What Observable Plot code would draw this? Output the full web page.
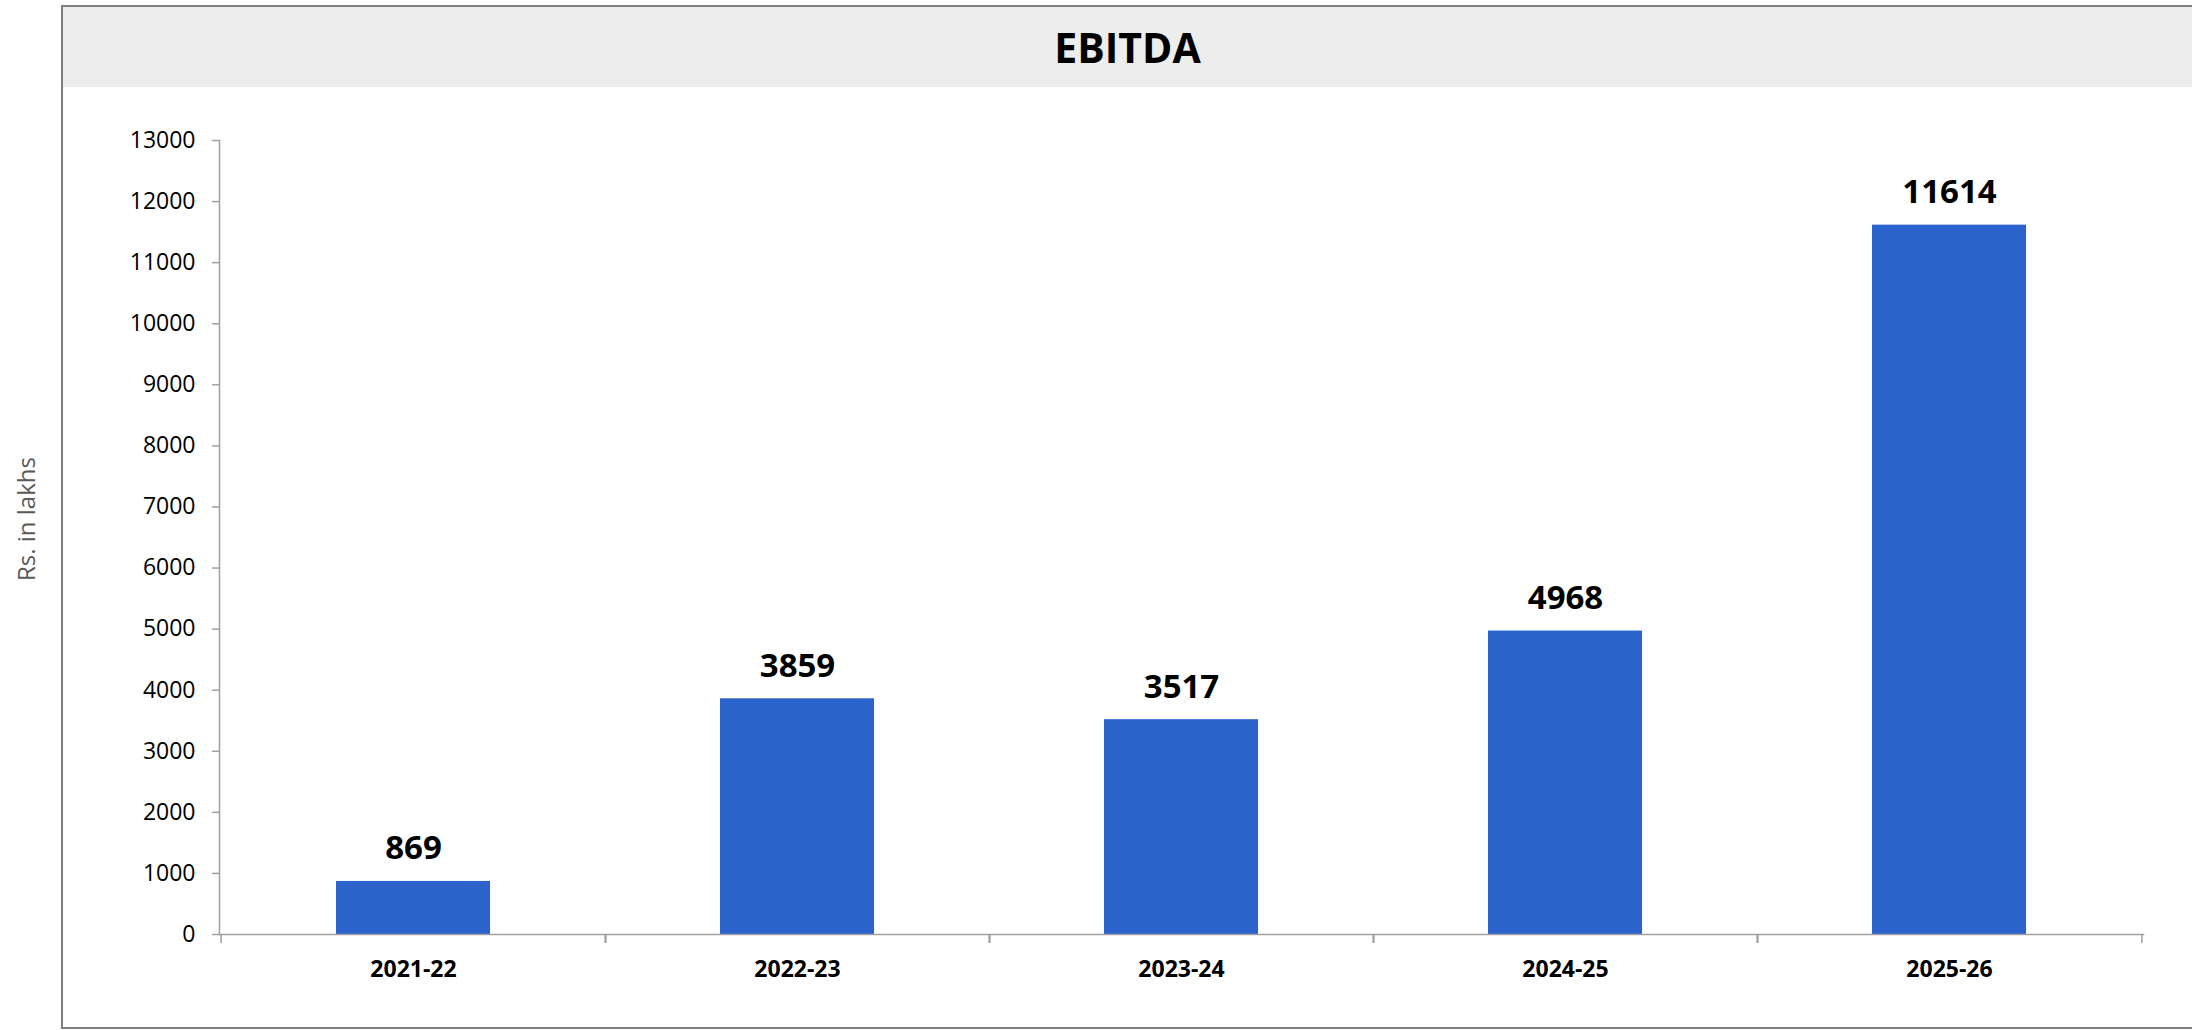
<!DOCTYPE html>
<html>
<head>
<meta charset="utf-8">
<script src="https://cdn.jsdelivr.net/npm/d3@7"></script>
<script src="https://cdn.jsdelivr.net/npm/@observablehq/plot@0.6"></script>
<style>
  html, body { margin: 0; padding: 0; background: #ffffff; overflow: hidden; }
  body { width: 2192px; height: 1030px; position: relative; font-family: 'Open Sans', sans-serif; }
  #frame { position: absolute; left: 61px; top: 5px; width: 2300px; height: 1020px; border: 2px solid #7f7f7f; pointer-events: none; }
  #titlebar { position: absolute; left: 0; top: 0; right: 0; height: 80px; background: #ededed; }
  #title { position: absolute; left: 0; top: 0; width: 2129px; height: 80px; line-height: 80px; text-align: center; font-size: 41px; font-weight: bold; color: #000; }
  #ylabel { position: absolute; left: 25px; top: 519px; transform: translate(-50%, -50%) rotate(-90deg); font-size: 24px; color: #595959; white-space: nowrap; }
  #chart { position: absolute; left: 0; top: 87px; }
</style>
</head>
<body>
<div id="chart"></div>
<div id="frame"><div id="titlebar"></div><div id="title">EBITDA</div></div>
<div id="ylabel">Rs. in lakhs</div>
<script>
const categories = ["2021-22", "2022-23", "2023-24", "2024-25", "2025-26"];
const ebitda = [869, 3859, 3517, 4968, 11614];
const yTicks = [0, 1000, 2000, 3000, 4000, 5000, 6000, 7000, 8000, 9000, 10000, 11000, 12000, 13000];

const data = categories.map((c, i) => ({year: c, value: ebitda[i]}));

const W = 2192, H = 943;
const mL = 219, mR = 49, mT = 53, mB = 96;
const step = (W - mL - mR) / categories.length;
const axisColor = "#a0a0a0";

const chart = Plot.plot({
  width: W,
  height: H,
  marginLeft: mL,
  marginRight: mR,
  marginTop: mT,
  marginBottom: mB,
  style: {fontFamily: "'Open Sans', sans-serif", background: "transparent", overflow: "visible", color: "#000"},
  x: {domain: categories, paddingInner: 0.6, paddingOuter: 0.3, label: null},
  y: {domain: [0, 13000], label: null},
  marks: [
    Plot.barY(data, {x: "year", y: "value", fill: "#2b62cc"}),
    Plot.frame({anchor: "left", stroke: axisColor, strokeWidth: 1.5}),
    Plot.frame({anchor: "bottom", stroke: axisColor, strokeWidth: 1.5}),
    Plot.ruleX(data, {x: "year", y1: 0, y2: 0, insetBottom: -9, dx: -step / 2, stroke: axisColor, strokeWidth: 1.5}),
    Plot.ruleX(data, {x: "year", y1: 0, y2: 0, insetBottom: -9, dx: step / 2, stroke: axisColor, strokeWidth: 1.5}),
    Plot.axisY({ticks: yTicks, tickFormat: d => String(d), tickSize: 7, tickPadding: 17, fontSize: 23, stroke: axisColor, strokeWidth: 1.5, fill: "#000", label: null}),
    Plot.axisX({tickSize: 0, tickPadding: 26, fontSize: 23, fontWeight: "bold", fill: "#000", label: null}),
    Plot.text(data, {x: "year", y: "value", text: d => String(d.value), lineAnchor: "bottom", dy: -22, fontSize: 33, fontWeight: "bold", fill: "#000"})
  ]
});
document.getElementById("chart").appendChild(chart);
</script>
</body>
</html>
